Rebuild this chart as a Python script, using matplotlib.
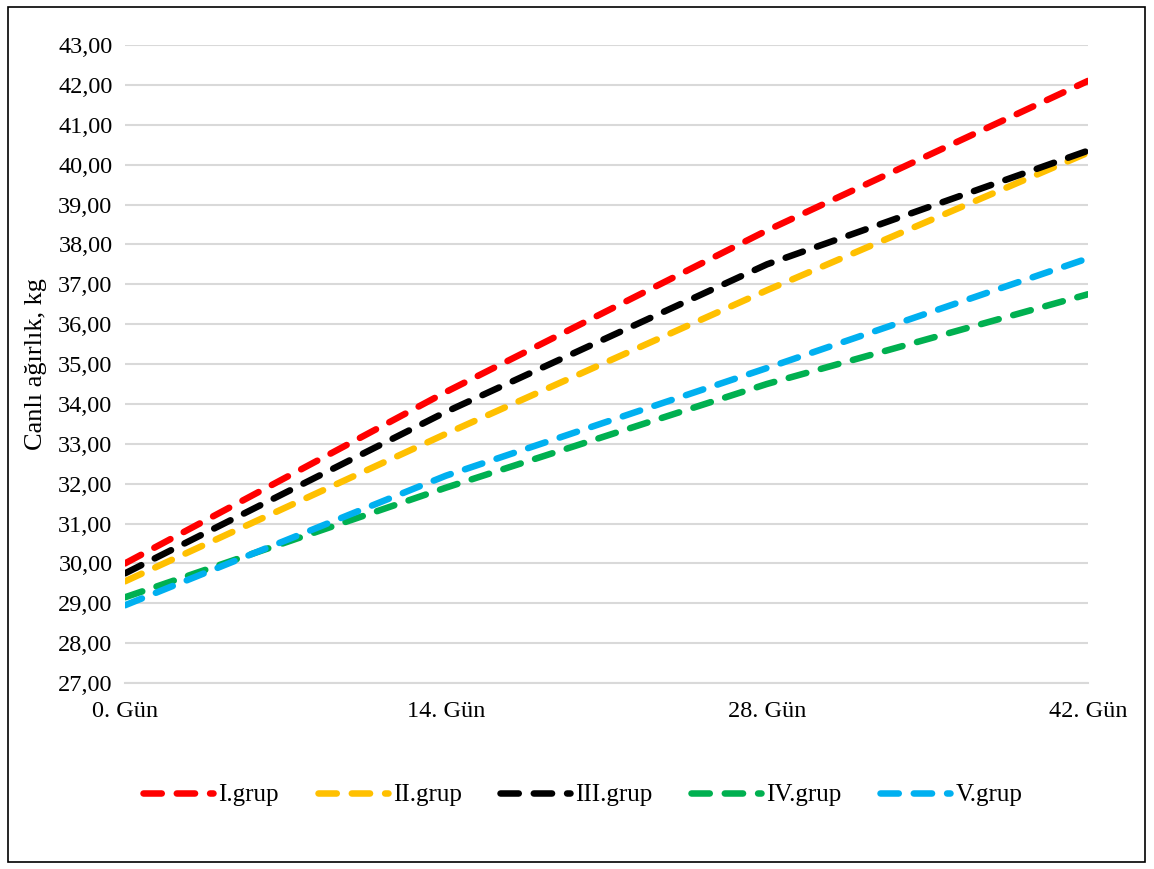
import matplotlib
matplotlib.use("Agg")
import matplotlib.pyplot as plt
from matplotlib.patches import Rectangle
from matplotlib.ticker import FuncFormatter

plt.rcParams['font.family'] = ['Liberation Serif', 'DejaVu Serif']

# weighing days and group means (kg)
days = ["0. Gün", "14. Gün", "28. Gün", "42. Gün"]
grup_1 = [30.00, 34.30, 38.35, 42.10]
grup_2 = [29.55, 33.25, 36.85, 40.30]
grup_3 = [29.75, 33.80, 37.50, 40.35]
grup_4 = [29.15, 31.90, 34.50, 36.75]
grup_5 = [28.95, 32.20, 34.90, 37.65]

labels = ["I.grup", "II.grup", "III.grup", "IV.grup", "V.grup"]
colors = ["#FF0000", "#FFC000", "#000000", "#00B050", "#00B0F0"]

fig = plt.figure(figsize=(11.54, 8.69), dpi=100)
ax = fig.add_axes([0.1083, 0.214, 0.8345, 0.7342])

x = list(range(len(days)))
for vals, lab, col in zip([grup_1, grup_2, grup_3, grup_4, grup_5], labels, colors):
    ax.plot(x, vals, color=col, lw=4.7, linestyle=(0, (2.8, 2.3)),
            dash_capstyle='round', solid_capstyle='round', label=lab)

ax.set_xlim(0, 3)
ax.set_ylim(27, 43)
ax.set_yticks(range(27, 44))
ax.set_xticks(x)
ax.set_xticklabels(days)
ax.yaxis.set_major_formatter(FuncFormatter(lambda v, p: f"{v:.2f}".replace(".", ",")))
ax.tick_params(axis='both', length=0, labelsize=17.5)
ax.tick_params(axis='y', pad=9)
ax.tick_params(axis='x', pad=13)

ax.grid(axis='y', color='#d9d9d9', lw=1.5)
ax.set_axisbelow(True)
for side in ['top', 'right', 'left']:
    ax.spines[side].set_visible(False)
ax.spines['bottom'].set_color('#d9d9d9')
ax.spines['bottom'].set_linewidth(1.5)

ax.set_ylabel("Canlı ağırlık, kg", fontsize=19, labelpad=8)

fig.legend(loc='center', bbox_to_anchor=(0.505, 1 - 795 / 869), ncol=5,
           frameon=False, fontsize=18, handlelength=2.8, columnspacing=1.55,
           handletextpad=0.2)

fig.patches.append(Rectangle((8 / 1154, 7 / 869), 1137 / 1154, 855 / 869,
                             transform=fig.transFigure, fill=False,
                             edgecolor='black', lw=1.2))

fig.savefig("out.png", dpi=100)
